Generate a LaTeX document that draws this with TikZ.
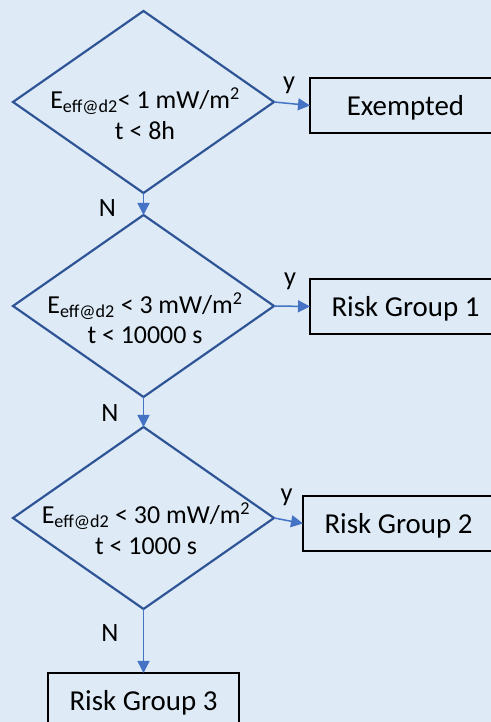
\documentclass[tikz,border=0pt]{standalone}
\usepackage{fontspec}
\setmainfont{Carlito}
\usetikzlibrary{shapes.geometric,arrows.meta}
\definecolor{bgblue}{HTML}{DEEBF7}
\definecolor{dmdblue}{HTML}{2F5597}
\definecolor{arrblue}{HTML}{4472C4}
\tikzset{
  decision/.style={diamond, draw=dmdblue, line width=2.2bp, minimum width=261bp,
    minimum height=182bp, inner sep=0pt, outer sep=0pt},
  dtext/.style={align=center, inner sep=0pt, font=\fontsize{26}{30.6}\selectfont},
  result/.style={draw=black, line width=1.9bp, fill=bgblue, minimum width=191bp,
    minimum height=55bp, text height=25bp, text depth=5bp, inner sep=0pt,
    outer sep=0pt, font=\fontsize{29}{34}\selectfont},
  flow/.style={draw=arrblue, line width=1.5bp, -{Triangle[length=12bp,width=12bp]}},
  answer/.style={inner sep=0pt, font=\fontsize{26.5}{30}\selectfont}
}
\begin{document}
\begin{tikzpicture}[x=1bp,y=1bp]
\useasboundingbox (0,0) rectangle (491,722);
\clip (0,0) rectangle (491,722);
\fill[bgblue] (0,0) rectangle (491,722);

% decisions
\node[decision] (d1) at (143.5,620) {};
\node[decision] (d2) at (143.5,416) {};
\node[decision] (d3) at (143.5,204) {};
\node[dtext, anchor=base] (d1t) at (145,582.7)
  {E\textsubscript{eff@d2}< 1 mW/m\textsuperscript{2}\\t < 8h};
\node[dtext, anchor=base] (d2t) at (145,378)
  {E\textsubscript{eff@d2} < 3 mW/m\textsuperscript{2}\\t < 10000 s};
\node[dtext, anchor=base] (d3t) at (146,167.7)
  {E\textsubscript{eff@d2} < 30 mW/m\textsuperscript{2}\\t < 1000 s};

% results
\node[result] (ex) at (405.5,616.5) {Exempted};
\node[result] (rg1) at (405.5,415.5) {Risk Group 1};
\node[result] (rg2) at (398.5,198.5) {Risk Group 2};
\node[result] (rg3) at (143.5,21.5) {Risk Group 3};

% connectors
\draw[flow] (d1.east) -- (ex.west);
\draw[flow] (d2.east) -- (rg1.west);
\draw[flow] (d3.east) -- (rg2.west);
\draw[flow] (d1.south) -- (d2.north);
\draw[flow] (d2.south) -- (d3.north);
\draw[flow] (d3.south) -- (rg3.north);

% answers
\node[answer] (y1) at ([shift={(15,17)}]d1.east) {y};
\node[answer] (y2) at ([shift={(16,25)}]d2.east) {y};
\node[answer] (y3) at ([shift={(12.5,21)}]d3.east) {y};
\node[answer] (n1) at ([shift={(-36,-15)}]d1.south) {N};
\node[answer] (n2) at ([shift={(-33.5,-16)}]d2.south) {N};
\node[answer] (n3) at ([shift={(-33.5,-24.5)}]d3.south) {N};
\end{tikzpicture}
\end{document}
